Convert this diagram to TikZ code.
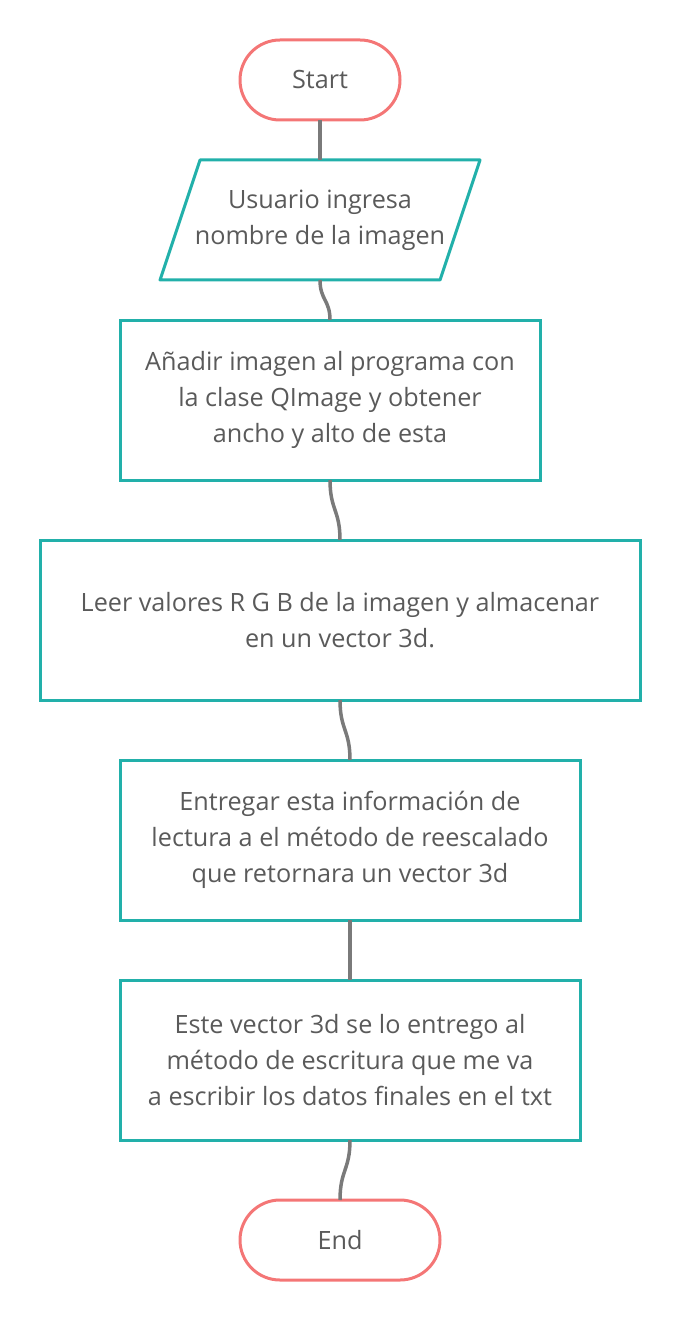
\documentclass[tikz,border=0pt]{standalone}
\usepackage{fontspec}
\setmainfont{Open Sans}
\usetikzlibrary{shapes.geometric}
\definecolor{tealc}{HTML}{22B0AA}
\definecolor{redc}{HTML}{F47676}
\definecolor{linec}{HTML}{7A7A7A}
\definecolor{textc}{HTML}{5A5A5A}
\begin{document}
\begin{tikzpicture}[x=1pt,y=-1pt,
  every node/.style={font=\fontsize{25.2}{36}\selectfont, text=textc, align=center, outer sep=0pt, inner sep=0pt},
  term/.style={draw=redc, line width=3pt, rounded corners=40pt, minimum height=80pt},
  procbox/.style={draw=tealc, line width=3pt, minimum height=160pt},
  conn/.style={draw=linec, line width=3.5pt}]
\useasboundingbox (0,0) rectangle (680,1321);
\node[term, minimum width=160pt] (start) at (320,80) {Start};
\node[minimum width=320pt, minimum height=120pt] (inp) at (320,220) {Usuario ingresa\\nombre de la imagen};
\draw[tealc, line width=3pt, line join=round] ([xshift=40pt]inp.north west) -- (inp.north east) -- ([xshift=-40pt]inp.south east) -- (inp.south west) -- cycle;
\node[procbox, minimum width=420pt] (b2) at (330,400) {Añadir imagen al programa con\\la clase QImage y obtener\\ancho y alto de esta};
\node[procbox, minimum width=600pt] (b3) at (340,620) {Leer valores R G B de la imagen y almacenar\\en un vector 3d.};
\node[procbox, minimum width=460pt] (b4) at (350,840) {Entregar esta información de\\lectura a el método de reescalado\\que retornara un vector 3d};
\node[procbox, minimum width=460pt] (b5) at (350,1060) {Este vector 3d se lo entrego al\\método de escritura que me va\\a escribir los datos finales en el txt};
\node[term, minimum width=200pt] (end) at (340,1240) {End};
\draw[conn] (start.south) -- (inp.north);
\draw[conn] (inp.south) .. controls +(0,20) and +(0,-20) .. (b2.north);
\draw[conn] (b2.south) .. controls +(0,30) and +(0,-30) .. (b3.north);
\draw[conn] (b3.south) .. controls +(0,30) and +(0,-30) .. (b4.north);
\draw[conn] (b4.south) -- (b5.north);
\draw[conn] (b5.south) .. controls +(0,30) and +(0,-30) .. (end.north);
\end{tikzpicture}
\end{document}
